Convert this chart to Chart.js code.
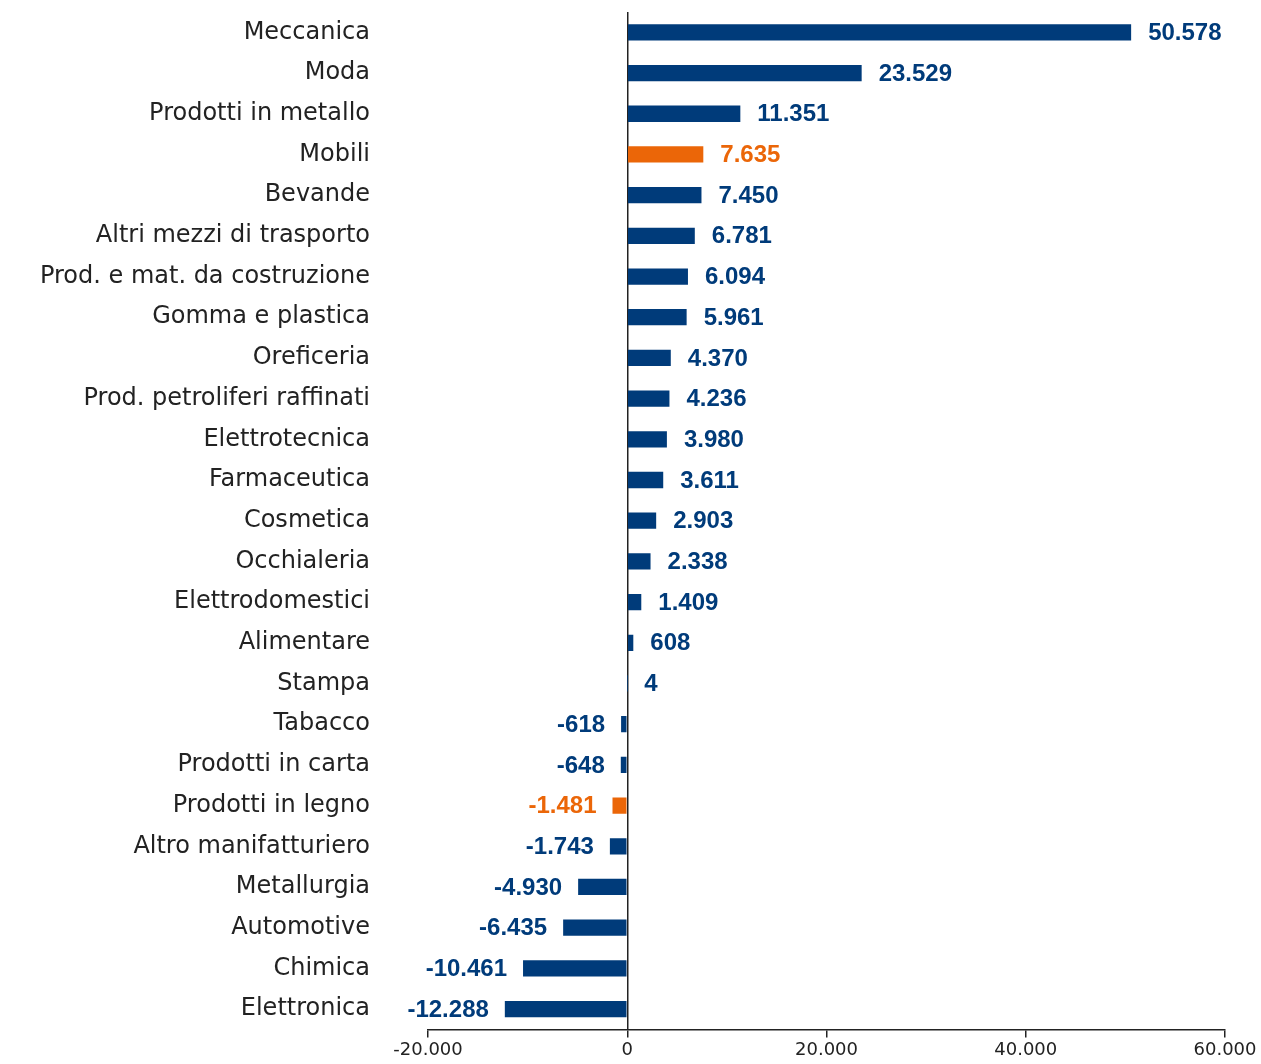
<!DOCTYPE html>
<html>
<head>
<meta charset="utf-8">
<script src="https://cdn.jsdelivr.net/npm/chart.js@4/dist/chart.umd.min.js"></script>
<style>
  html, body { margin: 0; padding: 0; background: #fff; }
  #wrap { width: 1261px; height: 1064px; }
</style>
</head>
<body>
<div id="wrap"><canvas id="bar-chart"></canvas></div>
<script>
"use strict";
var categories = [
    "Meccanica", "Moda", "Prodotti in metallo", "Mobili", "Bevande",
    "Altri mezzi di trasporto", "Prod. e mat. da costruzione", "Gomma e plastica",
    "Oreficeria", "Prod. petroliferi raffinati", "Elettrotecnica", "Farmaceutica",
    "Cosmetica", "Occhialeria", "Elettrodomestici", "Alimentare", "Stampa",
    "Tabacco", "Prodotti in carta", "Prodotti in legno", "Altro manifatturiero",
    "Metallurgia", "Automotive", "Chimica", "Elettronica"
];
var values = [
    50578, 23529, 11351, 7635, 7450,
    6781, 6094, 5961,
    4370, 4236, 3980, 3611,
    2903, 2338, 1409, 608, 4,
    -618, -648, -1481, -1743,
    -4930, -6435, -10461, -12288
];
var highlighted = ["Mobili", "Prodotti in legno"];
var xTicks = [-20000, 0, 20000, 40000, 60000];

var blue = "#003b7a";
var orange = "#eb6608";

function fmt(n) {
    var s = String(Math.abs(n)).replace(/\B(?=(\d{3})+(?!\d))/g, ".");
    return (n < 0 ? "-" : "") + s;
}

var barColors = categories.map(function (c) {
    return highlighted.indexOf(c) >= 0 ? orange : blue;
});

var valueLabels = {
    id: "valueLabels",
    afterDatasetsDraw: function (chart) {
        var ctx = chart.ctx;
        var meta = chart.getDatasetMeta(0);
        ctx.save();
        ctx.font = "bold 24px 'Liberation Sans', Arial, sans-serif";
        ctx.textBaseline = "middle";
        meta.data.forEach(function (bar, i) {
            var v = values[i];
            ctx.fillStyle = barColors[i];
            if (v >= 0) {
                ctx.textAlign = "left";
                ctx.fillText(fmt(v), bar.x + 17, bar.y + 1);
            } else {
                ctx.textAlign = "right";
                ctx.fillText(fmt(v), bar.x - 16, bar.y + 1);
            }
        });
        ctx.restore();
    }
};

var ctx = document.getElementById("bar-chart").getContext("2d");
new Chart(ctx, {
    type: "bar",
    data: {
        labels: categories,
        datasets: [{
            data: values,
            backgroundColor: barColors,
            barPercentage: 0.4,
            categoryPercentage: 1
        }]
    },
    options: {
        indexAxis: "y",
        responsive: true,
        maintainAspectRatio: false,
        animation: false,
        layout: { padding: { top: 12, right: 36, left: 0, bottom: 0 } },
        plugins: {
            legend: { display: false },
            tooltip: { enabled: false }
        },
        scales: {
            x: {
                min: -20000,
                max: 60000,
                afterBuildTicks: function (scale) {
                    scale.ticks = xTicks.map(function (v) { return { value: v }; });
                },
                grid: {
                    color: function (c) { return c.tick && c.tick.value === 0 ? "#222" : "rgba(0,0,0,0)"; },
                    lineWidth: 1.5,
                    tickColor: "#222",
                    tickLength: 8
                },
                border: { display: true, color: "#222", width: 1.5 },
                ticks: {
                    color: "#222",
                    padding: 2.5,
                    maxRotation: 0,
                    font: { family: "'DejaVu Sans', sans-serif", size: 18 },
                    callback: function (v) { return fmt(v); }
                }
            },
            y: {
                afterFit: function (scale) { scale.width = 428; },
                grid: { display: false, drawTicks: true, tickLength: 58 },
                border: { display: false },
                ticks: {
                    color: "#222",
                    padding: 0,
                    autoSkip: false,
                    font: { family: "'DejaVu Sans', sans-serif", size: 24, lineHeight: 1 }
                }
            }
        }
    },
    plugins: [valueLabels]
});
</script>
</body>
</html>
